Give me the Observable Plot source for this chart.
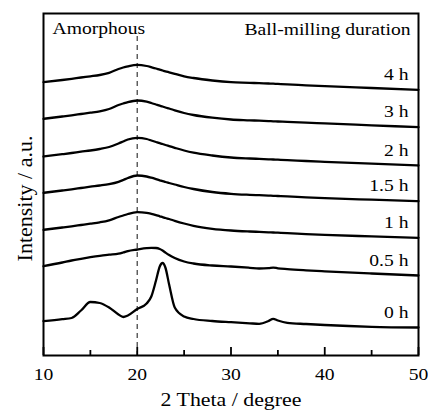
<!DOCTYPE html>
<html><head><meta charset="utf-8">
<script src="https://cdn.jsdelivr.net/npm/d3@7"></script>
<script src="https://cdn.jsdelivr.net/npm/@observablehq/plot@0.6"></script>
<style>body{margin:0;background:#fff;} svg{display:block}</style>
</head><body><div id="chart"></div>
<script>
// 2θ sampling positions (degree)
const twoTheta = [10, 12, 13, 14, 15, 16, 17, 18, 18.5, 19, 20, 21, 21.5, 22, 22.4, 22.7, 23, 23.4, 24, 25, 26, 28, 30, 32, 33, 34, 34.5, 35, 36, 38, 40, 45, 50];

// Intensity (a.u., stacked with offsets) for each ball-milling duration
const int0h  = [34.3, 36.3, 37.5, 45, 53.5, 52.5, 48, 41, 38.5, 40, 46.5, 52, 59, 75, 89, 92.5, 88, 71, 48, 39, 36.5, 34.5, 33.3, 32.2, 31.7, 34.5, 36.7, 35, 32.7, 31.5, 30.5, 28.7, 28];
const int05h = [89.3, 93, 95, 96.7, 98.3, 99.7, 100.8, 101.8, 103, 104.4, 106, 107.4, 107.7, 107.5, 106.5, 105, 103, 100.5, 97.5, 94, 92, 90, 89, 87.7, 87, 87.3, 87.9, 87.2, 86.4, 85.2, 84.2, 82, 80];
const int1h  = [125.7, 128, 129.2, 130.5, 131.8, 133.2, 135.2, 138.5, 140, 141.5, 143.3, 142.7, 141.7, 140.4, 139.2, 138.4, 137.5, 136.5, 134.7, 132, 129.7, 126.7, 125, 124, 123.6, 123.2, 123, 122.8, 122.4, 121.4, 120.6, 119.1, 117.7];
const int15h = [162.7, 165, 166.2, 167.5, 168.8, 170, 171.4, 173.7, 175.5, 177.5, 180, 179, 177.8, 176.4, 175.2, 174.3, 173.5, 172.5, 171, 168.5, 166.5, 163.5, 161.7, 160.7, 160.3, 159.9, 159.7, 159.5, 159.1, 158.2, 157.4, 155.8, 154.3];
const int2h  = [199, 201.3, 202.5, 203.8, 205, 206.5, 208.5, 212, 214, 216, 217.7, 216.5, 215, 213.5, 212.3, 211.5, 210.5, 209.4, 207.7, 205, 202.8, 200, 198, 197, 196.6, 196.2, 196, 195.8, 195.4, 194.5, 193.7, 191.8, 190];
const int3h  = [236.7, 239, 240.2, 241.5, 242.8, 244.2, 246.5, 250.5, 252, 253.4, 255, 253.8, 252.5, 251, 249.8, 249, 248, 247, 245.2, 242.5, 240.5, 237.8, 236, 235.2, 234.8, 234.4, 234.2, 234, 233.6, 232.8, 232.1, 230.2, 228.3];
const int4h  = [273.3, 275.5, 276.7, 278, 279.2, 280.5, 282.7, 286.5, 288, 289.2, 290.7, 289.5, 288.3, 287, 285.8, 285, 284.2, 283.2, 281.7, 279.2, 277.5, 275, 273.3, 272.7, 272.3, 272, 271.8, 271.6, 271.2, 270.2, 269.3, 267.5, 265.7];

const durations = ["0 h", "0.5 h", "1 h", "1.5 h", "2 h", "3 h", "4 h"];
const xTicks = [10, 20, 30, 40, 50];
const xMinorTicks = [15, 25, 35, 45];
const amorphousPeak = [20];
const xTitle = "2 Theta / degree";
const yTitle = "Intensity / a.u.";
const amorphousLabel = "Amorphous";
const legendTitle = "Ball-milling duration";

const seriesValues = [int0h, int05h, int1h, int15h, int2h, int3h, int4h];
const rows = durations.flatMap((d, k) => twoTheta.map((x, j) => ({duration: d, x, y: seriesValues[k][j]})));
const ends = durations.map((d, k) => ({duration: d, x: twoTheta[twoTheta.length - 1], y: seriesValues[k][seriesValues[k].length - 1]}));

const serif = "'Liberation Serif', 'Times New Roman', Times, serif";

const chart = Plot.plot({
  width: 428,
  height: 410,
  marginLeft: 43,
  marginRight: 10,
  marginTop: 13,
  marginBottom: 55,
  style: {fontFamily: serif, background: "#fff", color: "#000"},
  x: {domain: [10, 50], axis: null},
  y: {domain: [0, 342], axis: null},
  marks: [
    Plot.ruleX(amorphousPeak, {x: d => d, insetTop: 23, stroke: "#555", strokeWidth: 1.4, strokeDasharray: "5,4"}),
    Plot.line(rows, {x: "x", y: "y", z: "duration", stroke: "#000", strokeWidth: 2.3, curve: "monotone-x"}),
    Plot.ruleX(xTicks, {x: d => d, insetTop: 334, stroke: "#000", strokeWidth: 1.8}),
    Plot.ruleX(xMinorTicks, {x: d => d, insetTop: 337, stroke: "#000", strokeWidth: 1.8}),
    Plot.axisX({ticks: xTicks, tickSize: 0, tickPadding: 12, fontSize: 17.5, label: null, tickFormat: d => String(d)}),
    Plot.frame({stroke: "#000", strokeWidth: 2}),
    Plot.text(ends, {x: "x", y: "y", text: "duration", dx: -10, dy: -10, textAnchor: "end", lineAnchor: "bottom", fontSize: 17.5}),
    Plot.text([amorphousLabel], {text: d => d, frameAnchor: "top-left", dx: 9, dy: 20, textAnchor: "start", lineAnchor: "bottom", fontSize: 17.5}),
    Plot.text([legendTitle], {text: d => d, frameAnchor: "top-right", dx: -8, dy: 21, textAnchor: "end", lineAnchor: "bottom", fontSize: 17.5}),
    Plot.text([xTitle], {text: d => d, frameAnchor: "bottom", dy: 50, textAnchor: "middle", lineAnchor: "bottom", fontSize: 19.5}),
    Plot.text([yTitle], {text: d => d, frameAnchor: "left", dx: -12, dy: 14, rotate: -90, textAnchor: "middle", lineAnchor: "bottom", fontSize: 22})
  ]
});
document.getElementById("chart").appendChild(chart);

// The reference typography is slightly wide: stretch horizontal texts a little
chart.querySelectorAll("text").forEach(t => {
  if (t.textContent === yTitle) return;
  const len = t.getComputedTextLength();
  if (len > 0) {
    t.setAttribute("textLength", (len * 1.12).toFixed(1));
    t.setAttribute("lengthAdjust", "spacingAndGlyphs");
  }
});
</script>
</body></html>
